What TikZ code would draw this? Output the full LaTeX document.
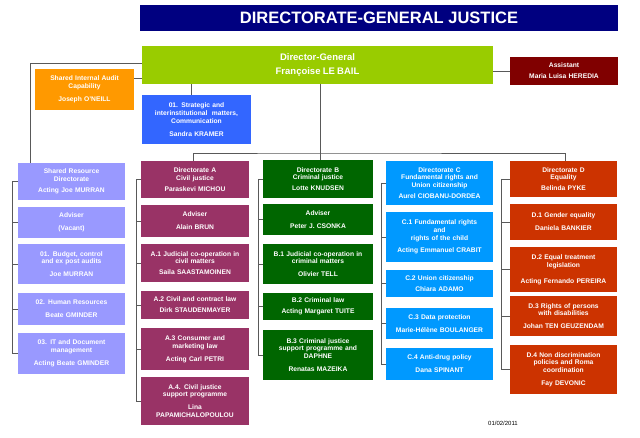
\documentclass[tikz,border=0pt]{standalone}
\usepackage{fontspec}
\setmainfont{Liberation Sans}
\begin{document}
\begin{tikzpicture}[x=1pt,y=-1pt,
  bx/.style={inner sep=0pt,outer sep=0pt,align=center,text=white,
    font=\fontsize{6.7}{7.8}\selectfont\bfseries},
  ln/.style={draw=black!65,line width=0.8pt}]
\definecolor{cnavy}{HTML}{000080}
\definecolor{cdg}{HTML}{99CC00}
\definecolor{cass}{HTML}{800000}
\definecolor{corg}{HTML}{FF9900}
\definecolor{cstr}{HTML}{3366FF}
\definecolor{csr}{HTML}{9999FF}
\definecolor{cA}{HTML}{993366}
\definecolor{cB}{HTML}{006600}
\definecolor{cC}{HTML}{0099FF}
\definecolor{cD}{HTML}{CC3300}
\newcommand\bx[7]{\node[bx,fill=#6,minimum width={(#4-#2)*1pt},minimum height={(#5-#3)*1pt},text width={(#4-#2-2)*1pt}] (#1) at ({(#2+#4)/2},{(#3+#5)/2}) {#7};}
\useasboundingbox (0,0) rectangle (640,438);
\fill[white] (0,0) rectangle (640,438);
% title
\node[bx,fill=cnavy,minimum width=478pt,minimum height=26pt,font=\fontsize{16.5}{18}\selectfont\bfseries] (title) at (379,18) {DIRECTORATE-GENERAL JUSTICE};
\coordinate (bus) at (320,153);
% top
\bx{dg}{142}{46}{493}{84}{cdg}{\fontsize{9.5}{11}\selectfont Director-General\\[7pt]\fontsize{9.5}{11}\selectfont Françoise LE BAIL}
\bx{ass}{510}{57}{618}{85}{cass}{Assistant\\[3pt]Maria Luisa HEREDIA}
\bx{aud}{35}{69}{134}{110}{corg}{Shared Internal Audit\\Capability\\[5pt]Joseph O'NEILL}
\bx{str}{142}{95}{251}{144}{cstr}{01. Strategic and\\interinstitutional\ \ matters,\\Communication\\[5pt]Sandra KRAMER}
% shared resource
\bx{s1}{18}{163}{125}{200}{csr}{Shared Resource\\Directorate\\[3pt]Acting Joe MURRAN}
\bx{s2}{18}{207}{125}{238}{csr}{Adviser\\[5pt](Vacant)}
\bx{s3}{18}{244}{125}{284}{csr}{01. Budget, control\\and ex post audits\\[5pt]Joe MURRAN}
\bx{s4}{18}{293}{125}{325}{csr}{02. Human Resources\\[5pt]Beate GMINDER}
\bx{s5}{18}{333}{125}{374}{csr}{03. IT and Document\\management\\[5pt]Acting Beate GMINDER}
% A
\bx{a0}{141}{161}{249}{198}{cA}{Directorate A\\Civil justice\\[3pt]Paraskevi MICHOU}
\bx{a1}{141}{205}{249}{237}{cA}{Adviser\\[5pt]Alain BRUN}
\bx{a2}{141}{244}{249}{282}{cA}{A.1 Judicial co-operation in\\civil matters\\[3pt]Saila SAASTAMOINEN}
\bx{a3}{141}{291}{249}{319}{cA}{A.2 Civil and contract law\\[3pt]Dirk STAUDENMAYER}
\bx{a4}{141}{328}{249}{370}{cA}{A.3 Consumer and\\marketing law\\[5pt]Acting Carl PETRI}
\bx{a5}{141}{377}{249}{425}{cA}{A.4. Civil justice\\support programme\\[5pt]Lina\\PAPAMICHALOPOULOU}
% B
\bx{b0}{263}{160}{373}{198}{cB}{Directorate B\\Criminal justice\\[3pt]Lotte KNUDSEN}
\bx{b1}{263}{204}{373}{235}{cB}{Adviser\\[5pt]Peter J. CSONKA}
\bx{b2}{263}{244}{373}{284}{cB}{B.1 Judicial co-operation in\\criminal matters\\[5pt]Olivier TELL}
\bx{b3}{263}{293}{373}{320}{cB}{B.2 Criminal law\\[3pt]Acting Margaret TUITE}
\bx{b4}{263}{330}{373}{380}{cB}{B.3 Criminal justice\\support programme and\\DAPHNE\\[5pt]Renatas MAZEIKA}
% C
\bx{c0}{386}{161}{493}{205}{cC}{Directorate C\\Fundamental rights and\\Union citizenship\\[3pt]Aurel CIOBANU-DORDEA}
\bx{c1}{386}{212}{493}{262}{cC}{C.1 Fundamental rights\\and\\rights of the child\\[5pt]Acting Emmanuel CRABIT}
\bx{c2}{386}{270}{493}{297}{cC}{C.2 Union citizenship\\[3pt]Chiara ADAMO}
\bx{c3}{386}{308}{493}{339}{cC}{C.3 Data protection\\[5pt]Marie-Hélène BOULANGER}
\bx{c4}{386}{348}{493}{380}{cC}{C.4 Anti-drug policy\\[5pt]Dana SPINANT}
% D
\bx{d0}{510}{161}{617}{197}{cD}{Directorate D\\Equality\\[3pt]Belinda PYKE}
\bx{d1}{510}{204}{617}{240}{cD}{D.1 Gender equality\\[5pt]Daniela BANKIER}
\bx{d2}{510}{247}{617}{292}{cD}{D.2 Equal treatment\\legislation\\[8pt]Acting Fernando PEREIRA}
\bx{d3}{510}{296}{617}{336}{cD}{D.3 Rights of persons\\with disabilities\\[5pt]Johan TEN GEUZENDAM}
\bx{d4}{510}{345}{617}{394}{cD}{D.4 Non discrimination\\policies and Roma\\coordination\\[5pt]Fay DEVONIC}
\node[font=\fontsize{6}{7}\selectfont] (date) at (503,423) {01/02/2011};
% connectors
\draw[ln] (ass.west) -- (ass.west -| dg.east);
\draw[ln] (aud.east |- 0,78) -- (dg.west |- 0,78);
\draw[ln] (dg.west |- 0,63) -| (s1.north -| 30,0);
\draw[ln] (str.north -| 191,0) -- (dg.south -| 191,0);
\draw[ln] (dg.south -| bus) -- (bus);
\draw[ln] (a0.north -| 193,0) |- (bus) -| (d0.north -| 565,0);
\draw[ln] (bus) -- (b0.north -| bus);
\draw[ln] (c0.north -| 438,0) -- (c0.north -| 438,153);
\foreach \f/\l/\d in {s1/s5/6,a0/a5/5,b0/b4/5,c0/c4/5,d0/d4/9}{
  \draw[ln] ([xshift=-\d pt]\f.west) -- ([xshift=-\d pt]\l.west);
}
\foreach \n/\d in {s1/6,s2/6,s3/6,s4/6,s5/6,a0/5,a1/5,a2/5,a3/5,a4/5,a5/5,b0/5,b1/5,b2/5,b3/5,b4/5,c0/5,c1/5,c2/5,c3/5,c4/5,d0/9,d1/9,d2/9,d3/9,d4/9}{
  \draw[ln] (\n.west) -- ++(-\d,0);
}
\end{tikzpicture}
\end{document}
